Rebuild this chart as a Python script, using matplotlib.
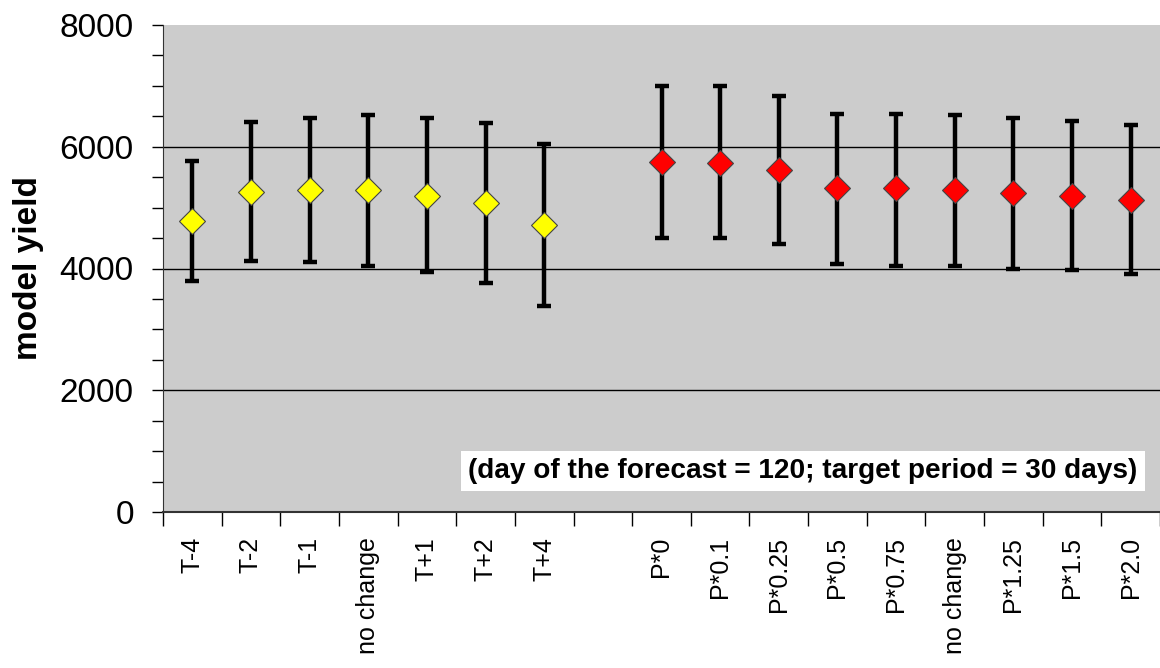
import numpy as np
import matplotlib
matplotlib.use("Agg")
import matplotlib.pyplot as plt
from matplotlib.ticker import MultipleLocator

plt.rcParams["font.family"] = ["Liberation Sans", "DejaVu Sans"]

# --- Data ---
t_labels = ["T-4", "T-2", "T-1", "no change", "T+1", "T+2", "T+4"]
t_mean = [4780, 5260, 5290, 5290, 5190, 5070, 4720]
t_low = [3790, 4120, 4100, 4045, 3935, 3765, 3380]
t_high = [5765, 6400, 6475, 6520, 6475, 6385, 6040]

p_labels = ["P*0", "P*0.1", "P*0.25", "P*0.5", "P*0.75", "no change",
            "P*1.25", "P*1.5", "P*2.0"]
p_mean = [5750, 5735, 5615, 5315, 5315, 5290, 5245, 5190, 5125]
p_low = [4505, 4505, 4410, 4080, 4045, 4045, 4000, 3970, 3905]
p_high = [6995, 6995, 6830, 6545, 6545, 6520, 6475, 6425, 6355]

note = "(day of the forecast = 120; target period = 30 days)"

# category slots: T group, one empty slot, P group
labels = t_labels + [""] + p_labels
t_x = np.arange(len(t_labels))
p_x = np.arange(len(p_labels)) + len(t_labels) + 1

fig = plt.figure(figsize=(11.6, 6.68), dpi=100)
ax = fig.add_axes([163 / 1160, 156 / 668, 997 / 1160, 487 / 668])
ax.set_facecolor("#cccccc")

# gridlines
for g in [2000, 4000, 6000]:
    ax.axhline(g, color="black", linewidth=1.0, zorder=1)


def draw(x, mean, low, high, color):
    mean = np.array(mean)
    yerr = [mean - np.array(low), np.array(high) - mean]
    ax.errorbar(x, mean, yerr=yerr, fmt="none", ecolor="black",
                elinewidth=3.2, capsize=5, capthick=3.2, zorder=2)
    ax.plot(x, mean, linestyle="none", marker="D", markersize=13,
            markerfacecolor=color, markeredgecolor="#444444",
            markeredgewidth=0.8, zorder=3)


draw(t_x, t_mean, t_low, t_high, "#ffff00")
draw(p_x, p_mean, p_low, p_high, "#ff0000")

# --- Axes ---
ax.set_xlim(-0.5, len(labels) - 0.5)
ax.set_ylim(0, 8000)
for s in ["top", "right"]:
    ax.spines[s].set_visible(False)
ax.spines["left"].set_color("#333333")
ax.spines["bottom"].set_color("#333333")
ax.spines["bottom"].set_linewidth(1.5)

ax.yaxis.set_major_locator(MultipleLocator(2000))
ax.yaxis.set_minor_locator(MultipleLocator(500))
ax.tick_params(axis="y", which="both", direction="out", length=8,
               width=1, labelsize=24, pad=13)

# x: ticks at slot boundaries, labels at slot centres
ax.set_xticks(np.arange(len(labels) + 1) - 0.5)
ax.set_xticklabels([])
ax.set_xticks(np.arange(len(labels)), minor=True)
ax.set_xticklabels(labels, minor=True, rotation=90, fontsize=18)
ax.tick_params(axis="x", which="major", direction="out", length=10, width=1)
ax.tick_params(axis="x", which="minor", length=0, pad=18)
for lab in ax.get_xticklabels(minor=True):
    lab.set_verticalalignment("top")

ax.set_ylabel("model yield", fontsize=24, fontweight="bold", labelpad=11)

ax.text(0.642, 0.085, note, transform=ax.transAxes, ha="center",
        va="center", fontsize=20.2, fontweight="bold",
        bbox=dict(facecolor="white", edgecolor="none", pad=5))

fig.savefig("out.png", dpi=100)
